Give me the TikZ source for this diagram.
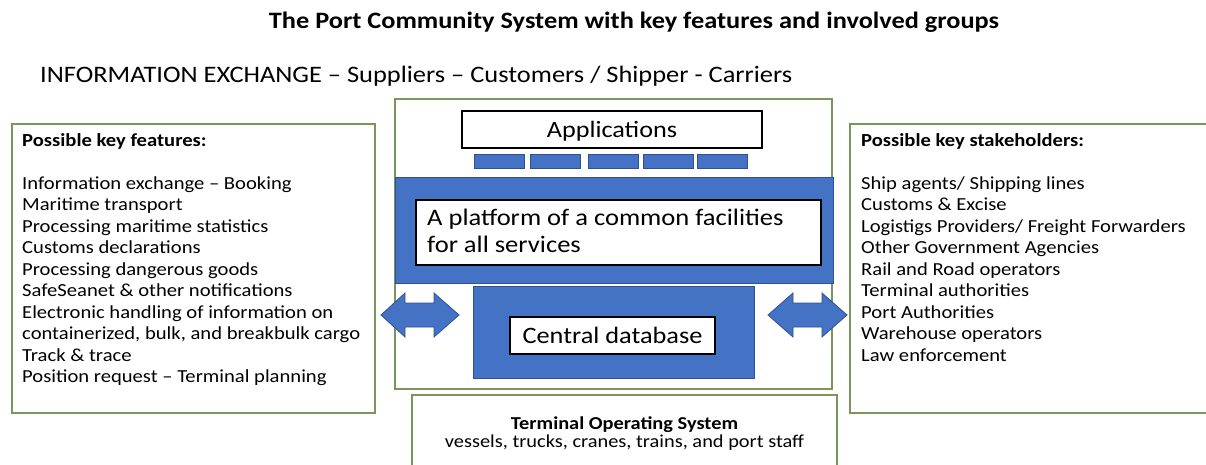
\documentclass[tikz,border=0pt]{standalone}
\usepackage{fontspec}
\setmainfont{Carlito}[FakeStretch=1.12]
\definecolor{pcsblue}{RGB}{68,114,196}
\definecolor{pcsedge}{RGB}{47,82,143}
\definecolor{pcsgreen}{RGB}{122,150,92}
\tikzset{
  greenbox/.style={draw=pcsgreen, line width=1.3pt, fill=white},
  bluebox/.style={draw=pcsedge, line width=1pt, fill=pcsblue},
  whitebox/.style={draw=black, line width=1.2pt, fill=white},
  arrowfill/.style={draw=pcsedge, line width=0.8pt, fill=pcsblue},
  listtext/.style={inner sep=0pt, anchor=north west, align=left, font=\fontsize{18.4}{21.5}\selectfont},
}
\begin{document}
\begin{tikzpicture}[x=1pt,y=-1pt]
\useasboundingbox (0,0) rectangle (1206,465);
\fill[white] (0,0) rectangle (1206,465);
% title
\node[font=\bfseries\fontsize{23.5}{26}\selectfont, inner sep=0pt] (title) at (634,22) {The Port Community System with key features and involved groups};
\node[font=\fontsize{23.6}{26}\selectfont, inner sep=0pt, anchor=west] (sub) at (40,76) {INFORMATION EXCHANGE -- Suppliers -- Customers / Shipper - Carriers};
% side boxes
\draw[greenbox] (12,124) rectangle (375,413);
\coordinate (leftbox) at (193,268);
\draw[greenbox] (850,124) rectangle (1212,413);
\coordinate (rightbox) at (1030,268);
% bottom box
\draw[greenbox] (412,395) rectangle (837,470);
\node[inner sep=0pt, align=center, font=\fontsize{18.2}{18.5}\selectfont] (tos) at (624.5,433.5) {\textbf{Terminal Operating System}\\vessels, trucks, cranes, trains, and port staff};
% central box
\draw[greenbox] (395,99) rectangle (832,389);
\node[whitebox, inner sep=0pt, minimum width=300pt, minimum height=37pt, text height=20.5pt, text depth=4.5pt, font=\fontsize{23.4}{26}\selectfont] (apps) at (612,129.5) {Applications};
\foreach \x [count=\i] in {474,530,588,643,697}{
  \draw[bluebox] (\x,155) rectangle ++(50,14);
}
\draw[bluebox] (395,178) rectangle (833,283);
\draw[whitebox] (416,200) rectangle (821,265);
\node[inner sep=0pt, anchor=north west, align=left, font=\fontsize{23.7}{27}\selectfont] (platform) at (427,209) {A platform of a common facilities\\for all services};
\draw[bluebox] (473,286) rectangle (754,378);
\node[whitebox, minimum width=205pt, minimum height=37pt, font=\fontsize{23.5}{26}\selectfont] (cdb) at (612.5,335.5) {Central database};
% arrows
\draw[arrowfill] (381,315) -- (405,293) -- (405,303) -- (434,303) -- (434,293) -- (459,315) -- (434,337) -- (434,327) -- (405,327) -- (405,337) -- cycle;
\draw[arrowfill] (768,315) -- (793,293) -- (793,303) -- (822,303) -- (822,293) -- (847,315) -- (822,337) -- (822,327) -- (793,327) -- (793,337) -- cycle;
% lists
\node[listtext] (feat) at (22,133) {\textbf{Possible key features:}\\[21.5pt]
Information exchange -- Booking\\
Maritime transport\\
Processing maritime statistics\\
Customs declarations\\
Processing dangerous goods\\
SafeSeanet \& other notifications\\
Electronic handling of information on\\
containerized, bulk, and breakbulk cargo\\
Track \& trace\\
Position request -- Terminal planning};
\node[listtext] (stake) at (861,133) {\textbf{Possible key stakeholders:}\\[21.5pt]
Ship agents/ Shipping lines\\
Customs \& Excise\\
Logistigs Providers/ Freight Forwarders\\
Other Government Agencies\\
Rail and Road operators\\
Terminal authorities\\
Port Authorities\\
Warehouse operators\\
Law enforcement};
\end{tikzpicture}
\end{document}
